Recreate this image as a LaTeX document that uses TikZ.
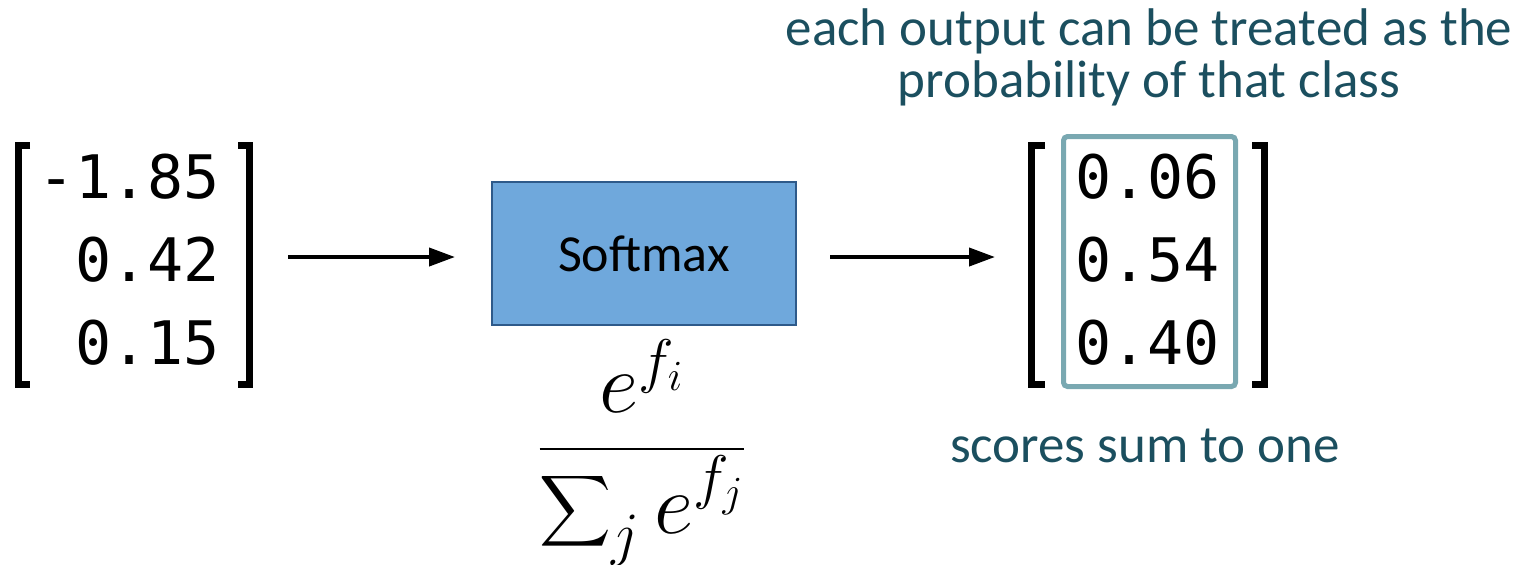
\RequirePackage{fix-cm}
\documentclass[tikz,border=0pt]{standalone}
\usepackage{amsmath}
\usepackage[no-math]{fontspec}
\setmainfont{Carlito}
\newfontfamily\monofont{DejaVu Sans Mono}
\usepackage{tikz}
\usetikzlibrary{positioning,arrows.meta}
\definecolor{boxblue}{HTML}{6FA8DC}
\definecolor{boxedge}{HTML}{2E5A8A}
\definecolor{noteteal}{HTML}{1B4F5F}
\definecolor{probedge}{HTML}{79A8B1}

\begin{document}
\begin{tikzpicture}[x=0.5pt,y=-0.5pt,
    num/.style={font=\monofont\fontsize{30}{30}\selectfont, inner sep=0pt, anchor=base east},
    note/.style={font=\fontsize{26.5}{26}\selectfont, text=noteteal, align=center, inner sep=0pt},
    brk/.style={line width=3.5pt},
    flow/.style={-{Triangle[length=13pt,width=9pt]}, line width=2pt}]
    \useasboundingbox (0,0) rectangle (1535,564);
    % input scores
    \node[num] (s1) at (220,198) {-1.85};
    \node[num] (s2) at (220,281) {0.42};
    \node[num] (s3) at (220,364) {0.15};
    \draw[brk] (30,145.5) -- (18.5,145.5) -- (18.5,384.5) -- (30,384.5);
    \draw[brk] (238,145.5) -- (249.5,145.5) -- (249.5,384.5) -- (238,384.5);
    % softmax block
    \node[draw=boxedge, fill=boxblue, line width=0.7pt, minimum width=152pt, minimum height=71.5pt,
      font=\fontsize{26}{26}\selectfont] (smax) at (644,253.5) {Softmax};
    \node[font=\fontsize{43}{50}\selectfont, anchor=base, inner sep=0pt] (frac) at (642,470.5)
      {$\displaystyle\frac{e^{f_i}}{\displaystyle\sum\nolimits_j e^{f_j}}$};
    % output probabilities
    \node[num] (p1) at (1220,198) {0.06};
    \node[num] (p2) at (1220,281) {0.54};
    \node[num] (p3) at (1220,364) {0.40};
    \draw[brk] (1045,145.5) -- (1031.5,145.5) -- (1031.5,384.5) -- (1045,384.5);
    \draw[brk] (1252,145.5) -- (1264.5,145.5) -- (1264.5,384.5) -- (1252,384.5);
    \node[draw=probedge, line width=2.5pt, rounded corners=2pt, minimum width=86pt,
      minimum height=125pt] (pbox) at (1149.5,261.5) {};
    % arrows
    \coordinate (a1s) at (288,257);
    \coordinate (a1e) at (455,257);
    \coordinate (a2s) at (830,257);
    \coordinate (a2e) at (995,257);
    \draw[flow] (a1s) -- (a1e);
    \draw[flow] (a2s) -- (a2e);
    % notes
    \node[note, anchor=base] (top) at (1149,97) {each output can be treated as the\\probability of that class};
    \node[note, anchor=base] (sumone) at (1145,462) {scores sum to one};
\end{tikzpicture}
\end{document}
